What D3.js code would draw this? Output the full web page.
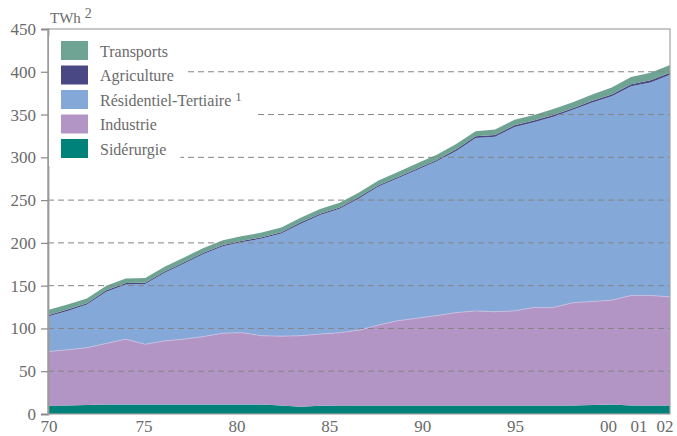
<!DOCTYPE html>
<html>

<head>
    <meta charset="utf-8">
    <title>Consommation d'électricité</title>
    <script src="https://d3js.org/d3.v7.min.js"></script>
    <style>
        body {
            margin: 0;
            background: #fff;
        }
    </style>
</head>

<body>
    <div id="svg-container"></div>
    <script>
        const years = [1970, 1971, 1972, 1973, 1974, 1975, 1976, 1977, 1978, 1979,
            1980, 1981, 1982, 1983, 1984, 1985, 1986, 1987, 1988, 1989,
            1990, 1991, 1992, 1993, 1994, 1995, 1996, 1997, 1998, 1999,
            2000, 2001, 2002]

        const siderurgie = [10, 10, 10.5, 11, 11, 11, 11, 11, 11, 11,
            11, 11, 10, 8.5, 9.5, 10, 10, 10, 10, 10,
            10, 10, 10, 10, 10, 10, 10, 10, 10.5, 11,
            10, 10, 10]
        const industrie = [63, 65, 67, 71.5, 76.5, 70.5, 74.5, 76.5, 79.5, 83.5,
            84, 80.5, 81, 83, 84, 85, 88, 94, 99, 102,
            105, 108.5, 110.5, 109.5, 110.5, 114.5, 114.5, 120, 121, 122,
            128.5, 128.5, 127]
        const residentiel = [41, 45.5, 50.5, 60.5, 64, 70.5, 79.5, 88.5, 96.5, 101.5,
            106, 113.5, 120, 131, 139, 145, 154, 162, 166.5, 173.5,
            180.5, 189, 202, 204.5, 215, 216.5, 223, 225.5, 232.5, 238.5,
            244.5, 249, 259.5]
        const agriculture = [1.5, 1.5, 1.5, 1.5, 1.5, 1.5, 1.5, 1.5, 1.5, 1.5,
            1.5, 1.5, 1.5, 1.5, 1.5, 1.5, 1.5, 1.5, 1.5, 1.5,
            1.5, 2, 2, 2, 2, 2, 2, 2, 2, 2,
            2.5, 2.5, 2.5]
        const transports = [6, 6, 5.5, 5.5, 5.5, 5.5, 5.5, 5.5, 5.5, 5.5,
            5.5, 5.5, 5.5, 5.5, 5.5, 5.5, 5.5, 5.5, 6, 6,
            6, 6, 6, 6.5, 6.5, 6.5, 7, 7, 7.5, 8,
            8.5, 9, 9]

        const keys = ["sid", "ind", "res", "agr", "tra"]
        const names = ["Sidérurgie", "Industrie", "Résidentiel-Tertiaire", "Agriculture", "Transports"]
        const colors = ["#00827a", "#b295c5", "#84a9d8", "#4a4884", "#6fa494"]

        const yTicks = [0, 50, 100, 150, 200, 250, 300, 350, 400, 450]
        const gridTicks = [50, 100, 150, 200, 250, 300, 350, 400]
        const labelYears = [1970, 1975, 1980, 1985, 1990, 1995, 2000, 2001, 2002]
        const labelText = ["70", "75", "80", "85", "90", "95", "00", "01", "02"]

        const table = years.map((yr, i) => ({
            year: yr, sid: siderurgie[i], ind: industrie[i], res: residentiel[i],
            agr: agriculture[i], tra: transports[i]
        }))

        const w = 677
        const h = 436
        const margin = { left: 48, right: 670, top: 29, bottom: 414 }
        const font = "'Liberation Serif', 'Times New Roman', 'DejaVu Serif', serif"
        const textColor = "#6b6b6b"

        const svg = d3.select("#svg-container").append("svg").attr("width", w).attr("height", h)

        const xScale = d3.scaleLinear().domain([1970, 2002]).range([margin.left, margin.right])
        const yScale = d3.scaleLinear().domain([0, 450]).range([margin.bottom, margin.top])
        // year labels in the original sit on their own grid, squeezed at the end
        const labelScale = d3.scaleLinear().domain([1970, 1975, 2000, 2001, 2002]).range([48.5, 143.5, 608, 638.5, 664.5])

        const series = d3.stack().keys(keys)(table)

        const area = d3.area()
            .x(d => xScale(d.data.year))
            .y0(d => yScale(d[0]))
            .y1(d => yScale(d[1]))

        svg.selectAll("path.layer")
            .data(series)
            .enter()
            .append("path")
            .attr("class", "layer")
            .attr("d", area)
            .style("fill", (d, i) => colors[i])

        // light seam on top of the industry layer
        svg.append("path")
            .datum(series[1])
            .attr("d", d3.line().x(d => xScale(d.data.year)).y(d => yScale(d[1])))
            .style("fill", "none")
            .style("stroke", "#cbbfe2")
            .style("stroke-width", 0.8)

        svg.selectAll("line.grid")
            .data(gridTicks)
            .enter()
            .append("line")
            .attr("class", "grid")
            .attr("x1", margin.left)
            .attr("x2", margin.right)
            .attr("y1", d => yScale(d))
            .attr("y2", d => yScale(d))
            .style("stroke", "#858585")
            .style("stroke-width", 1)
            .style("stroke-dasharray", "6,4")

        // frame
        svg.append("rect")
            .attr("x", margin.left)
            .attr("y", margin.top)
            .attr("width", margin.right - margin.left)
            .attr("height", margin.bottom - margin.top)
            .style("fill", "none")
            .style("stroke", "#a3a3a3")
            .style("stroke-width", 1.2)

        const yAxis = d3.axisLeft(yScale).tickValues(yTicks).tickSize(7).tickPadding(5)
        const gy = svg.append("g")
            .attr("transform", "translate(" + margin.left + ",0)")
            .call(yAxis)
        gy.select(".domain").style("stroke", "#9a9a9a").style("stroke-width", 1.8)
        gy.selectAll(".tick line").style("stroke", "#8a8a8a").style("stroke-width", 1.2)
        gy.selectAll(".tick text").style("font-size", "17px").style("font-family", font).style("fill", textColor)

        const xAxis = d3.axisBottom(labelScale).tickValues(labelYears).tickSize(0).tickPadding(6)
            .tickFormat((d, i) => labelText[i])
        const gx = svg.append("g")
            .attr("transform", "translate(0," + margin.bottom + ")")
            .call(xAxis)
        gx.select(".domain").remove()
        gx.selectAll(".tick text").style("font-size", "17px").style("font-family", font).style("fill", textColor)

        svg.append("text")
            .attr("x", 50)
            .attr("y", 22.5)
            .style("font-size", "15px")
            .style("font-family", font)
            .style("fill", textColor)
            .text("TWh")
            .append("tspan")
            .attr("dx", 4)
            .attr("dy", -5)
            .style("font-size", "14px")
            .text("2")

        // legend, top entry first
        const legendOrder = [4, 3, 2, 1, 0]
        const legend = svg.append("g")
        legendOrder.forEach((k, row) => {
            const ty = 41 + row * 24.5
            const g = legend.append("g")
            const bg = g.append("rect").style("fill", "#fff")
            g.append("rect")
                .attr("x", 61)
                .attr("y", ty)
                .attr("width", 27)
                .attr("height", 19)
                .style("fill", colors[k])
            const t = g.append("text")
                .attr("x", 100)
                .attr("y", ty + 15.5)
                .style("font-size", "16px")
                .style("font-family", font)
                .style("fill", textColor)
                .text(names[k])
            if (k === 2) {
                t.append("tspan").attr("dx", 4).attr("dy", -5).style("font-size", "13px").text("1")
            }
            const bb = t.node().getBBox()
            bg.attr("x", margin.left + 1)
                .attr("y", ty - 5)
                .attr("width", bb.x + bb.width + 14 - margin.left - 1)
                .attr("height", 32)
        })
    </script>
</body>

</html>
